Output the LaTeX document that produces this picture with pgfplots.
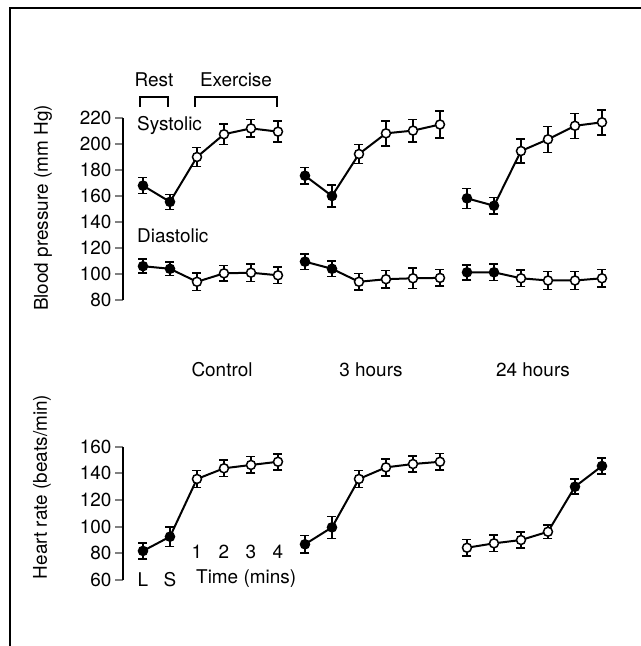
\documentclass[border=0pt]{standalone}
\usepackage{pgfplots}
\pgfplotsset{compat=1.18}
\usepackage{fontspec}
\setmainfont{TeX Gyre Heros}
\newcommand{\fs}{\fontsize{19}{22}\selectfont}
\pgfplotstableread{
x y e c
0 168 6.2 f
1 155.5 5.8 f
2 190 7.3 o
3 207.5 8 o
4 212 6.8 o
5 209.5 8 o
}\csys
\pgfplotstableread{
x y e c
0 106 5.4 f
1 104 5.3 f
2 94 6.7 o
3 100.5 6 o
4 101 6.8 o
5 99 6.2 o
}\cdia
\pgfplotstableread{
x y e c
6 175.6 6.4 f
7 160 8.5 f
8 192.3 7.3 o
9 208.2 9.6 o
10 210.3 8.7 o
11 215 10.3 o
}\hsys
\pgfplotstableread{
x y e c
6 109.5 6 f
7 104 6 f
8 94 6.2 o
9 96 6.7 o
10 96.7 8 o
11 97 6.4 o
}\hdia
\pgfplotstableread{
x y e c
12 158.2 7.7 f
13 152.5 6.4 f
14 194.6 9.2 o
15 203.6 10 o
16 214 9.6 o
17 216.7 9.6 o
}\dsys
\pgfplotstableread{
x y e c
12 101.3 5.8 f
13 101.3 6.4 f
14 96.7 6.2 o
15 95 6.8 o
16 95 6.8 o
17 96.7 6.7 o
}\ddia
\pgfplotstableread{
x y e c
0 81.8 6 f
1 92.5 7.3 f
2 135.8 6.5 o
3 143.8 6.2 o
4 146.3 6.2 o
5 148.7 6 o
}\chr
\pgfplotstableread{
x y e c
6 86.8 6.6 f
7 99.5 8.2 f
8 135.8 6.5 o
9 144.5 6.4 o
10 147 6 o
11 148.7 6.2 o
}\hhr
\pgfplotstableread{
x y e c
12 84.2 6.2 o
13 87.5 6.2 o
14 90 5.9 o
15 96.2 5 o
16 130 5.6 f
17 145.5 5.9 f
}\dhr
\pgfplotsset{
  grp/.style={black, line width=2bp, mark=*, scatter, point meta=explicit symbolic,
    scatter/classes={f={mark=*,fill=black,draw=black,line width=1.5bp},o={mark=*,fill=white,draw=black,line width=1.5bp}},
    mark size=4.5bp,
    error bars/.cd, y dir=both, y explicit,
    error bar style={line width=1.5bp,black},
    error mark options={rotate=90,mark size=4.5bp,line width=1.5bp,black}},
  panel/.style={scale only axis, x=27bp, xmin=-0.74, xmax=17.5, enlargelimits=false,
    axis y line*=left, axis x line=none, xtick=\empty, clip=false,
    tick align=outside, major tick length=8bp,
    y axis line style={line width=2bp},
    ytick style={line width=1.8bp},
    tick label style={font=\fs},
    /pgf/number format/assume math mode=true,
    anchor=south west}
}
\begin{document}
\begin{tikzpicture}
\useasboundingbox (0,0) rectangle (641bp,646bp);
\draw[line width=2.5bp] (10bp,0) -- (10bp,638bp) -- (641bp,638bp);
% Blood pressure
\begin{axis}[panel, at={(123bp,346bp)}, y=1.3bp, ymin=80, ymax=220, ytick={80,100,...,220}]
\addplot[grp] table[x=x,y=y,y error=e,meta=c] {\csys};
\addplot[grp] table[x=x,y=y,y error=e,meta=c] {\cdia};
\addplot[grp] table[x=x,y=y,y error=e,meta=c] {\hsys};
\addplot[grp] table[x=x,y=y,y error=e,meta=c] {\hdia};
\addplot[grp] table[x=x,y=y,y error=e,meta=c] {\dsys};
\addplot[grp] table[x=x,y=y,y error=e,meta=c] {\ddia};
\end{axis}
% Heart rate
\begin{axis}[panel, at={(123bp,66bp)}, y=1.333bp, ymin=60, ymax=160, ytick={60,80,...,160}]
\addplot[grp] table[x=x,y=y,y error=e,meta=c] {\chr};
\addplot[grp] table[x=x,y=y,y error=e,meta=c] {\hhr};
\addplot[grp] table[x=x,y=y,y error=e,meta=c] {\dhr};
\end{axis}
% labels
\node[rotate=90,font=\fs] at (43bp,438bp) {Blood pressure (mm Hg)};
\node[rotate=90,font=\fs] at (42bp,159bp) {Heart rate (beats/min)};
\node[font=\fs] at (154bp,566bp) {Rest};
\node[font=\fs] at (236bp,566bp) {Exercise};
\draw[line width=1.8bp] (140bp,539bp) -- (140bp,548.7bp) -- (168bp,548.7bp) -- (168bp,539bp);
\draw[line width=1.8bp] (195bp,539bp) -- (195bp,548.7bp) -- (277bp,548.7bp) -- (277bp,539bp);
\node[font=\fs,anchor=west,inner sep=0] at (137bp,521bp) {Systolic};
\node[font=\fs,anchor=west,inner sep=0] at (137bp,410bp) {Diastolic};
\node[font=\fs] at (222bp,276bp) {Control};
\node[font=\fs] at (371bp,276bp) {3 hours};
\node[font=\fs] at (533bp,276bp) {24 hours};
\node[font=\fs] at (143bp,66bp) {L};
\node[font=\fs] at (170bp,66bp) {S};
\node[font=\fs] at (197bp,94bp) {1};
\node[font=\fs] at (224bp,94bp) {2};
\node[font=\fs] at (251bp,94bp) {3};
\node[font=\fs] at (278bp,94bp) {4};
\node[font=\fs,anchor=west,inner sep=0] at (196bp,67bp) {Time (mins)};
\end{tikzpicture}
\end{document}
